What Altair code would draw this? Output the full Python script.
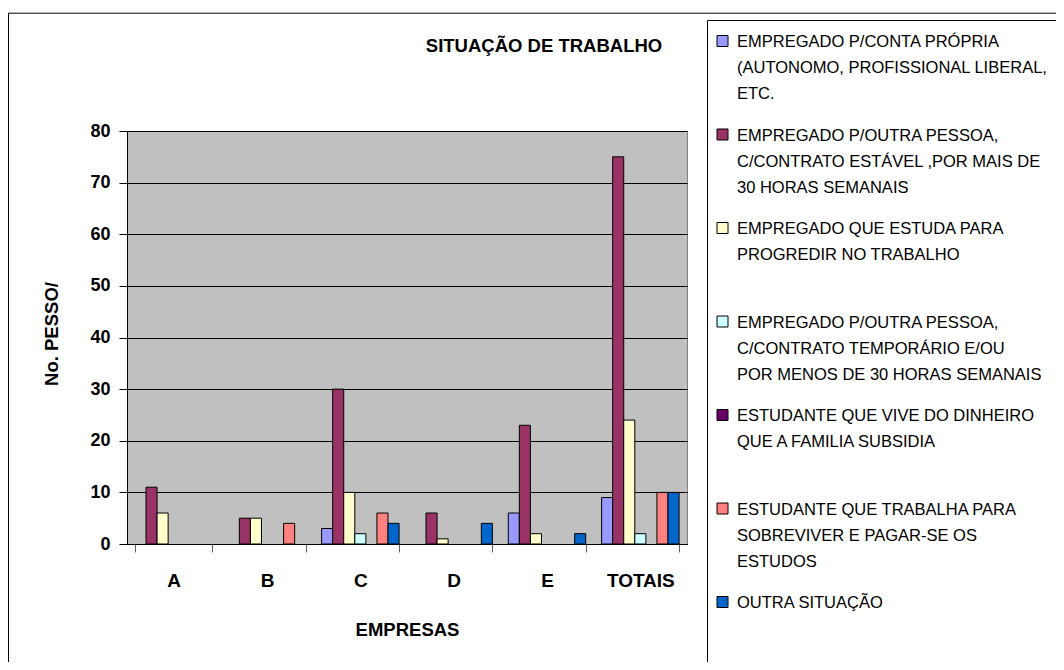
import altair as alt
import pandas as pd

title_text = "SITUAÇÃO DE TRABALHO"
x_title = "EMPRESAS"
y_title = "No. PESSO/"

companies = ["A", "B", "C", "D", "E", "TOTAIS"]

series = [
    "EMPREGADO P/CONTA PRÓPRIA\n(AUTONOMO, PROFISSIONAL LIBERAL,\nETC.",
    "EMPREGADO P/OUTRA PESSOA,\nC/CONTRATO ESTÁVEL ,POR MAIS DE\n30 HORAS SEMANAIS",
    "EMPREGADO QUE ESTUDA PARA\nPROGREDIR NO TRABALHO",
    "EMPREGADO P/OUTRA PESSOA,\nC/CONTRATO TEMPORÁRIO E/OU\nPOR MENOS DE 30 HORAS SEMANAIS",
    "ESTUDANTE QUE VIVE DO DINHEIRO\nQUE A FAMILIA SUBSIDIA",
    "ESTUDANTE QUE TRABALHA PARA\nSOBREVIVER E PAGAR-SE OS\nESTUDOS",
    "OUTRA SITUAÇÃO",
]
colors = ["#9999FF", "#993366", "#FFFFCC", "#CCFFFF", "#660066", "#FF8080", "#0066CC"]

autonomo = [0, 0, 3, 0, 6, 9]
estavel = [11, 5, 30, 6, 23, 75]
estuda = [6, 5, 10, 1, 2, 24]
temporario = [0, 0, 2, 0, 0, 2]
familia = [0, 0, 0, 0, 0, 0]
trabalha = [0, 4, 6, 0, 0, 10]
outra = [0, 0, 4, 4, 2, 10]
series_values = [autonomo, estavel, estuda, temporario, familia, trabalha, outra]

y_ticks = [0, 10, 20, 30, 40, 50, 60, 70, 80]

rows = []
for s, vals in zip(series, series_values):
    for c, v in zip(companies, vals):
        rows.append({"empresa": c, "serie": s, "valor": v})
df = pd.DataFrame(rows)

FONT = "Liberation Sans"
W, H = 560, 413

color_enc = alt.Color("serie:N", scale=alt.Scale(domain=series, range=colors), legend=None)

bars = alt.Chart(df).transform_filter("datum.valor > 0").mark_bar(
    stroke="black", strokeWidth=1
).encode(
    x=alt.X(
        "empresa:N",
        sort=companies,
        scale=alt.Scale(domain=companies, paddingInner=0.17, paddingOuter=0.085),
        axis=alt.Axis(
            title=x_title, labelAngle=0, labelFontSize=19, labelFontWeight="bold",
            labelColor="black", labelPadding=19.5, tickBand="extent", tickSize=8,
            tickColor="#606060", domainColor="black", titleFontSize=18.5,
            titleFontWeight="bold", titleColor="black", titleY=85.5,
            titleBaseline="middle", grid=False,
        ),
    ),
    xOffset=alt.XOffset("serie:N", sort=series,
                        scale=alt.Scale(domain=series, paddingInner=0, paddingOuter=0)),
    y=alt.Y(
        "valor:Q",
        scale=alt.Scale(domain=[0, 80], nice=False),
        axis=alt.Axis(
            title=y_title, values=y_ticks, labelFontSize=18, labelFontWeight="bold",
            labelColor="black", labelPadding=9, tickSize=8, tickColor="black",
            domainColor="black", gridColor="black", gridOpacity=1, gridWidth=1,
            titleFontSize=18.5, titleFontWeight="bold", titleColor="black",
            titleX=-76, titleY=202.5, titleBaseline="middle", titleAlign="center",
        ),
    ),
    color=color_enc,
)

frame_df = pd.DataFrame({"k": [1]})
outer_frame = alt.Chart(frame_df).mark_rect(
    fillOpacity=0, stroke="black", strokeWidth=1
).encode(x=alt.value(-118.5), x2=alt.value(960), y=alt.value(-117.8), y2=alt.value(560))
legend_frame = alt.Chart(frame_df).mark_rect(
    fillOpacity=0, stroke="black", strokeWidth=1
).encode(x=alt.value(580.5), x2=alt.value(960), y=alt.value(-110.5), y2=alt.value(560))

leg_df = pd.DataFrame({"serie": series})
leg_y = alt.Y("serie:N", scale=alt.Scale(type="point", domain=series, range=[-90, 471], padding=0),
              axis=None)
leg_sym = alt.Chart(leg_df).mark_square(
    size=121, opacity=1, filled=True, stroke="black", strokeWidth=1
).encode(x=alt.value(595.5), y=leg_y, color=color_enc)
leg_txt = alt.Chart(leg_df).mark_text(
    align="left", baseline="top", dy=-7, lineBreak="\n", lineHeight=26,
    fontSize=16.5, font=FONT, color="black"
).encode(x=alt.value(610), y=leg_y, text="serie:N")

title_df = pd.DataFrame({"t": [title_text]})
title_mark = alt.Chart(title_df).mark_text(
    fontSize=18.5, fontWeight="bold", align="center", baseline="middle", font=FONT, color="black"
).encode(x=alt.value(417), y=alt.value(-85), text="t:N")

chart = alt.layer(outer_frame, legend_frame, bars, leg_sym, leg_txt, title_mark).resolve_scale(
    y="independent"
).properties(
    width=W, height=H,
    autosize=alt.AutoSizeParams(type="none"),
    padding={"left": 119, "top": 123, "right": 369, "bottom": 118},
    background="white",
    view=alt.ViewBackground(fill="#C0C0C0", stroke="#808080", strokeWidth=1),
).configure_view(
    fill="#C0C0C0", stroke="#808080", strokeWidth=1
).configure(font=FONT)

chart.save("out.html", embed_options={"renderer": "svg", "actions": False})
